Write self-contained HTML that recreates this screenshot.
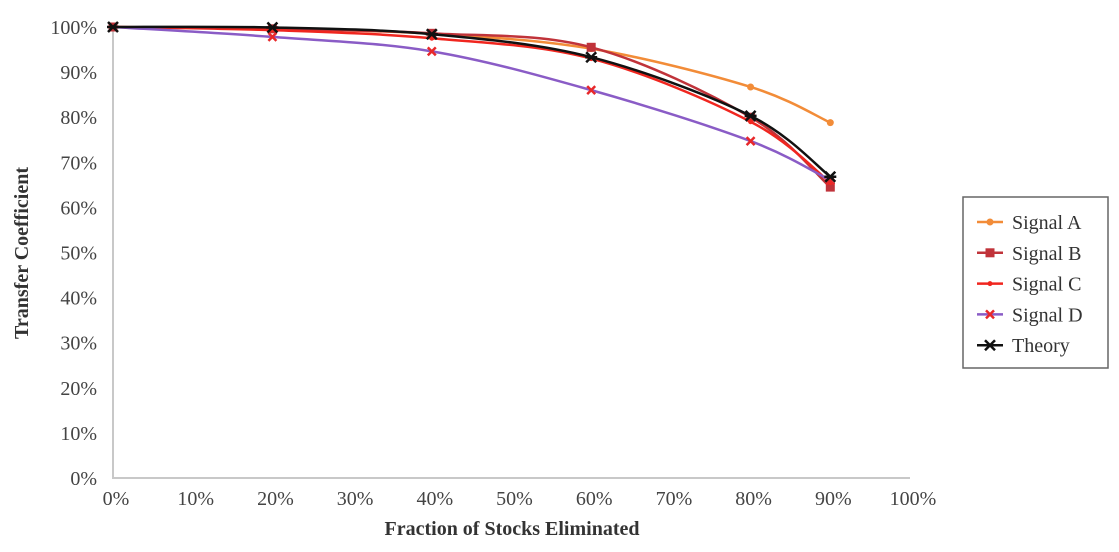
<!DOCTYPE html>
<html><head><meta charset="utf-8"><style>
body{margin:0;background:#fff;}
svg{display:block;font-family:"Liberation Serif",serif;}
</style></head><body>
<svg id="chart" width="1119" height="552">
<g id="axes"></g><g id="series"></g><g id="legend"></g>
</svg>
<script>
const xValues = [0, 20, 40, 60, 80, 90];
const signalA = [100, 99.6, 98.5, 95.2, 86.7, 78.8];
const signalB = [100, 99.6, 98.6, 95.5, 80.0, 64.5];
const signalC = [100, 99.3, 97.5, 93.0, 79.0, 65.5];
const signalD = [100, 97.8, 94.6, 86.0, 74.7, 66.0];
const theory = [100, 99.9, 98.4, 93.3, 80.3, 66.8];
const xTicks = [0,10,20,30,40,50,60,70,80,90,100];
const yTicks = [0,10,20,30,40,50,60,70,80,90,100];
const seriesNames = ["Signal A","Signal B","Signal C","Signal D","Theory"];

const NS="http://www.w3.org/2000/svg";
const X0=113,X1=910,Y0=478,Y1=27;
const sx=v=>X0+(X1-X0)*v/100, sy=v=>Y0-(Y0-Y1)*v/100;
function mk(tag,attrs,parent,text){const e=document.createElementNS(NS,tag);for(const k in attrs)e.setAttribute(k,attrs[k]);if(text!==undefined)e.textContent=text;parent.appendChild(e);return e;}
const axes=document.getElementById('axes'),ser=document.getElementById('series'),leg=document.getElementById('legend');
let e=mk('path',{d:`M${X0},${Y1} V${Y0} H${X1}`,stroke:'#c8c8c8','stroke-width':2,fill:'none'},axes);


yTicks.forEach(t=>{const el=mk('text',{x:97,y:sy(t)+7,'text-anchor':'end','font-size':20,fill:'#444'},axes,t+'%');

});
xTicks.forEach(t=>{const el=mk('text',{x:sx(t)+3,y:505,'text-anchor':'middle','font-size':20,fill:'#444'},axes,t+'%');

});
e=mk('text',{x:512,y:535,'text-anchor':'middle','font-size':20,'font-weight':'bold',fill:'#333'},axes,'Fraction of Stocks Eliminated');


e=mk('text',{transform:'translate(28,253) rotate(-90)','text-anchor':'middle','font-size':20,'font-weight':'bold',fill:'#333'},axes,'Transfer Coefficient');



function smooth(pts){let d=`M${pts[0][0]},${pts[0][1]}`;for(let i=0;i<pts.length-1;i++){const p0=pts[Math.max(i-1,0)],p1=pts[i],p2=pts[i+1],p3=pts[Math.min(i+2,pts.length-1)];const t=6;d+=` C${p1[0]+(p2[0]-p0[0])/t},${p1[1]+(p2[1]-p0[1])/t} ${p2[0]-(p3[0]-p1[0])/t},${p2[1]-(p3[1]-p1[1])/t} ${p2[0]},${p2[1]}`;}return d;}
function marker(g,type,x,y,col){
 if(type==='dot')mk('circle',{cx:x,cy:y,r:3.5,fill:col},g);
 else if(type==='sq')mk('rect',{x:x-4.5,y:y-4.5,width:9,height:9,fill:col},g);
 else if(type==='small')mk('circle',{cx:x,cy:y,r:2.5,fill:col},g);
 else if(type==='x')mk('path',{d:`M${x-4},${y-4}L${x+4},${y+4}M${x-4},${y+4}L${x+4},${y-4}`,stroke:'#e8282a','stroke-width':2.5},g);
 else if(type==='star')mk('path',{d:`M${x-5},${y-5}L${x+5},${y+5}M${x-5},${y+5}L${x+5},${y-5}M${x-6},${y}H${x+6}`,stroke:'#111','stroke-width':2.5},g);
}
const defs=[[signalA,'#f28c38','dot','signal-a'],[signalB,'#c0333a','sq','signal-b'],[signalC,'#f0261f','small','signal-c'],[signalD,'#8a5cc6','x','signal-d'],[theory,'#111','star','theory']];
defs.forEach(([vals,col,m,name])=>{
 const g=mk('g',{},ser);
 
 
 const pts=xValues.map((x,i)=>[sx(x),sy(vals[i])]);
 mk('path',{d:smooth(pts),stroke:col,'stroke-width':2.5,fill:'none'},g);
 pts.forEach(p=>marker(g,m,p[0],p[1],col));
});
e=mk('rect',{x:963,y:197,width:145,height:171,fill:'#fff',stroke:'#666','stroke-width':1.5},leg);


defs.forEach(([vals,col,m,name],i)=>{
 const y=222+i*30.8;
 const g=mk('g',{},leg);
 
 
 mk('line',{x1:977,x2:1003,y1:y,y2:y,stroke:col,'stroke-width':2.5},g);
 marker(g,m,990,y,col);
 mk('text',{x:1012,y:y+7,'font-size':20,fill:'#333'},g,seriesNames[i]);
});
</script>
</body></html>
